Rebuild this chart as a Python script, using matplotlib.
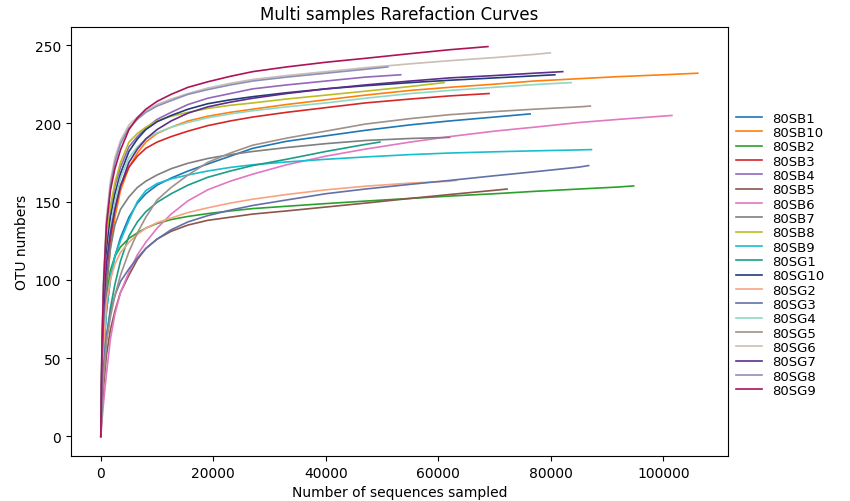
import matplotlib
matplotlib.use("Agg")
import matplotlib.pyplot as plt

# sequences sampled (thousands) common grid
X = [0, 0.2, 0.5, 1, 1.7, 2.5, 3.5, 5, 6.5, 8, 10, 12.5, 15.5, 19, 23, 27,
     33, 40, 47, 55, 62, 70, 77, 85, 92, 100]

names = ["80SB1", "80SB10", "80SB2", "80SB3", "80SB4", "80SB5", "80SB6", "80SB7",
         "80SB8", "80SB9", "80SG1", "80SG10", "80SG2", "80SG3", "80SG4", "80SG5",
         "80SG6", "80SG7", "80SG8", "80SG9"]

colors = ["#1f77b4", "#ff7f0e", "#2ca02c", "#d62728", "#9467bd", "#8c564b", "#e377c2",
          "#7f7f7f", "#bcbd22", "#17becf", "#1b9e86", "#233c78", "#f7a482", "#6272a8",
          "#8fd8c4", "#a0918a", "#c9bfb4", "#5e2d8c", "#8e8fb8", "#ad1457"]

# OTU values on the grid X (truncated), plus each curve's own end point
sb1 = [0, 30, 55, 80, 100, 115, 127, 140, 149, 155, 160.5, 165, 169.5, 174, 179, 184,
       188.5, 192, 195.5, 199, 201.5, 204]
sb10 = [0, 38, 68, 95, 120, 140, 157, 172, 181, 188, 193.5, 197.5, 201.5, 204.5, 207, 209,
        212, 215, 218, 221, 223, 225, 227, 228.5, 229.8, 231]
sb2 = [0, 32, 62, 90, 106, 115, 121, 126.5, 130, 133, 136, 138.5, 140.5, 142.3, 144, 145.5,
       147, 148.7, 150.3, 152, 153.5, 155, 156.5, 158, 159.3]
sb3 = [0, 42, 73, 100, 126, 145, 160, 172, 179, 184, 188, 191.5, 195, 198.5, 201.5, 204,
       207, 210, 213, 215.5, 217.5]
sb4 = [0, 54, 92, 125, 146, 160, 172, 185, 191.5, 197, 202.5, 207, 212, 216, 219, 222,
       224.5, 227, 229.5]
sb5 = [0, 15, 32, 52, 68, 80, 92, 103, 113, 120, 126, 131, 135, 138, 140, 142,
       144, 146.5, 149, 152, 154.5, 157.2]
sb6 = [0, 10, 22, 40, 62, 78, 92, 105, 116, 124, 133, 142, 150.5, 157.5, 163, 167.5,
       173.5, 179, 183.5, 188, 191.5, 195, 197.5, 200.5, 202.5, 204.6]
sb7 = [0, 35, 65, 95, 120, 135, 145, 153, 159, 163, 167, 171, 174.5, 177.5, 180, 182,
       184.5, 187, 189, 190.3]
sb8 = [0, 54, 92, 125, 147, 162, 175, 188, 193.5, 197.5, 201.5, 204.5, 207, 209.5, 211.5, 213,
       215.5, 218, 220.5, 223.5]
sb9 = [0, 30, 55, 80, 102, 115, 125, 138, 150, 157, 161.5, 164.5, 167, 169.5, 171.8, 173.5,
       175.3, 177, 178.5, 180, 181, 181.8, 182.4, 183]
sg1 = [0, 22, 42, 62, 82, 97, 112, 128, 137, 143.5, 149.5, 155, 160.5, 165.5, 169.5, 173,
       177, 182, 186.5]
sg10 = [0, 50, 86, 118, 140, 155, 168, 182, 190, 196, 201, 205, 209, 212.5, 215, 217,
        219.5, 222, 224, 226, 227.5, 229, 230.3]
sg2 = [0, 30, 58, 85, 100, 110, 117.5, 124, 129, 133, 136.5, 139.5, 143, 146, 149, 151.5,
       154.5, 157.5, 159.8, 161.8, 163]
sg3 = [0, 25, 45, 65, 79, 90, 99, 107, 114, 120, 126, 132, 137, 141, 144.5, 147.5,
       151, 155, 158, 161, 163.5, 166.5, 169, 172]
sg4 = [0, 46, 80, 110, 133, 150, 165, 178, 185, 190, 194, 197.5, 200.5, 203.5, 206, 208,
       210.5, 213, 216, 219, 221, 223, 224.7]
sg5 = [0, 20, 38, 60, 76, 90, 103, 118, 130, 140, 151, 159, 167, 175, 181, 186,
       190.5, 195, 199.5, 203, 205.5, 207.5, 209, 210.5]
sg6 = [0, 62, 103, 140, 163, 178, 189, 199, 204, 208, 212, 215.5, 219, 222.5, 225.5, 228,
       230.5, 233, 235.5, 238, 240, 242, 244]
sg7 = [0, 46, 80, 110, 130, 145, 160, 175, 183.5, 190, 196, 201.5, 206.5, 210.5, 213.5, 216,
       219, 222, 224.5, 227, 229, 230.5, 232]
sg8 = [0, 58, 98, 135, 160, 175, 187, 197, 202.5, 207, 211, 214.5, 218.5, 221.5, 224.5, 227,
       229.5, 232, 234.5]
sg9 = [0, 58, 98, 135, 157, 171, 183, 196, 203.5, 209, 214, 218.5, 223, 226.5, 230, 233,
       236, 239, 241.5, 244.5, 247]

end_x = [76.3, 106.1, 94.7, 69.0, 53.3, 72.2, 101.5, 62.0, 61.0, 87.2,
         49.6, 80.7, 63.2, 86.7, 83.6, 87.0, 79.9, 82.1, 51.0, 68.8]
end_y = [206, 232, 160, 219, 231, 158, 205, 191, 226, 183.2,
         188, 231, 163.5, 173, 226, 211, 245, 233, 236, 249]

series = [sb1, sb10, sb2, sb3, sb4, sb5, sb6, sb7, sb8, sb9,
          sg1, sg10, sg2, sg3, sg4, sg5, sg6, sg7, sg8, sg9]

fig = plt.figure(figsize=(8.5, 5.02), dpi=100)
ax = fig.add_axes([0.0835, 0.09, 0.7725, 0.854])

for name, col, vals, ex, ey in zip(names, colors, series, end_x, end_y):
    xs = [x * 1000 for x in X[:len(vals)]] + [ex * 1000]
    ys = list(vals) + [ey]
    ax.plot(xs, ys, color=col, lw=1.2, label=name)

ax.set_title("Multi samples Rarefaction Curves", fontsize=12)
ax.set_xlabel("Number of sequences sampled", fontsize=10)
ax.set_ylabel("OTU numbers", fontsize=10)
ax.set_xticks([0, 20000, 40000, 60000, 80000, 100000])
ax.set_yticks([0, 50, 100, 150, 200, 250])
ax.tick_params(labelsize=10)
ax.legend(loc="center left", bbox_to_anchor=(1.0, 0.47), frameon=False,
          fontsize=9.5, labelspacing=0.1, handlelength=2.0, borderaxespad=0.2)

fig.savefig("out.png", dpi=100)
